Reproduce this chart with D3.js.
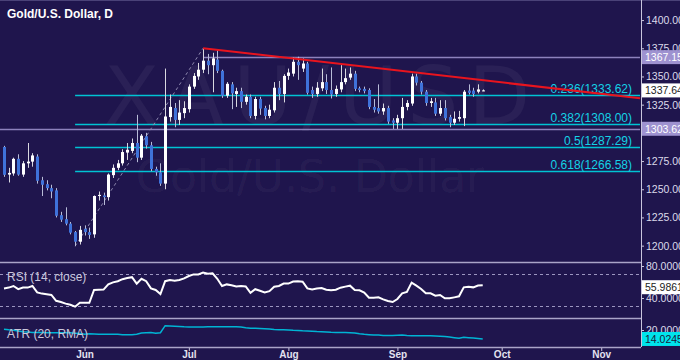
<!DOCTYPE html>
<html><head><meta charset="utf-8">
<script src="https://cdn.jsdelivr.net/npm/d3@7"></script>
<style>
html,body{margin:0;padding:0;background:#1f154d;}
svg{display:block;font-family:"Liberation Sans",Arial,sans-serif;}
</style></head><body>
<svg id="c" width="680" height="360"></svg>
<script>
// ---- data (Gold / U.S. Dollar, daily, 9 May - 27 Sep 2016) ----
const opens  = [1287.5,1263,1264,1277,1263,1273,1274.5,1279,1258,1254.5,1251,1249,1227,1223.5,1219.5,1212,1203.5,1215,1212,1210,
 1244,1244.5,1243,1262.5,1269,1273,1282.5,1284,1291,1278,1297,1289,1268,1265,1255,1314,1322,1311.5,1317.5,1321,
 1341,1350,1356,1364,1360,1365,1355,1333,1343,1334.5,1337,1327.5,1332,1315,1330,1322,1315,1320,1340,1334.5,
 1350.5,1352.5,1363,1357,1361.5,1338,1334.5,1339.5,1345,1338,1334.5,1338.5,1345,1349,1352.5,1339.5,1339,1338,1323,1322,
 1319,1322,1311,1309,1313,1323,1326,1350,1344.5,1336.5,1326.5,1327,1317,1322,1314,1309,1312.5,1313,1337.5,1337.5,
 1336.5,1337.5];
const highs  = [1288.5,1269,1278,1281,1275,1291,1282,1281,1261,1258,1254,1251,1230,1234,1221,1213,1217.5,1218,1216,1244.5,
 1248,1247,1264,1272,1276,1285.5,1291,1295,1316,1299,1300,1292,1270,1273,1357,1334,1326.5,1329,1328,1343,
 1353,1362,1375,1370,1371,1374,1356,1345,1345,1340,1340,1334,1334,1332,1332,1324,1325,1345,1346,1352,
 1357,1367,1367.5,1366,1363,1341,1345,1357,1352,1358,1342,1360,1357,1358,1355,1341,1341,1339.5,1330,1343,
 1326,1324,1313,1316,1331,1329,1352.5,1352.5,1346,1338,1331,1331,1329,1329,1316,1319,1319.5,1338,1343,1340,
 1343,1338.5];
const lows   = [1261,1256,1262,1262,1261,1269,1270,1255,1244,1249,1242,1225,1221,1218,1210,1199.5,1201,1209,1206,1207,
 1240,1236,1240,1260,1267,1271,1276,1282,1274,1276,1286,1266,1262,1253,1250,1310,1305,1307,1313,1318,
 1339,1347,1353,1352,1336,1353,1331,1331,1321,1323,1322,1325,1313,1312,1316,1312,1313,1318,1329,1327,
 1347,1350,1347,1354,1334,1331,1332,1337,1334.5,1330.5,1332,1336,1343,1347,1337,1336,1335,1321,1318,1317,
 1316,1308,1303.5,1303.5,1303.5,1320,1324,1342,1334,1324,1323,1315,1315,1311,1305,1307,1310,1306,1334,1332,
 1335,1337];
const closes = [1262.8,1264.5,1277,1263,1273,1274.5,1280,1257.5,1254,1251,1248,1226.5,1223,1219.5,1211.5,1203.5,1214,1212,1209.5,1244,
 1245,1243,1263,1269,1273,1283,1285,1291,1278,1297.5,1289,1268,1265,1255,1314.5,1323,1311.5,1318,1322,1341,
 1350.5,1356,1364,1360,1366,1355,1333,1343.5,1335,1337,1327.5,1332,1315,1330,1321.5,1315,1320.5,1340,1334.5,1350.5,
 1353.5,1363,1360,1361.5,1335.5,1334.5,1340,1345,1338,1334,1339,1345,1348.5,1352.5,1339,1338,1337,1323,1320.5,1319,
 1322,1310,1309,1313,1323,1326.5,1350,1344.5,1336.5,1326.5,1328,1317,1322,1313,1309,1312.5,1314,1336.5,1335.5,1334.5,
 1338.5,1337.64];
const rsiValues = [52,53,55,51,53,53,55,47,45.5,44.6,43.8,36.5,35,33,31.5,29.2,34.2,34,34,50,
 50.4,50.5,57,59.5,61,63.5,65,66,58,64,61,52,50,45,61,62.5,61.5,62.5,64.5,67.5,
 69.5,69.5,71.7,70.4,70.8,64,55,57,56,54.5,55,54.5,46.5,51,49,47,48.5,54,55,58,
 58,60.5,61,60.4,52,50.8,52,52.5,50.4,49.6,50.4,52.9,54.2,55.4,50,49.6,46.7,40.4,40.4,40.8,
 38.3,36.25,35,38.75,45.8,47.5,59.2,55.4,51.25,45.8,45.8,42.9,43.75,39.6,39.6,40.8,42.1,53.3,54.2,53.3,
 55.5,55.9861];
const atrValues = [20.5,20.1,19.8,19.3,18.8,18.6,18.4,18.3,18.3,18.2,18.2,18.2,18.2,18.2,18.1,17.9,17.6,17.1,17.5,17.3,
 17.1,17.1,17.1,17.1,17.1,16.9,16.8,16.8,17.2,18,18.2,18.3,17.9,18.2,22.9,22.7,22.5,22.3,22.1,22,
 22,22,22,22.1,22.2,22.2,22.2,22.2,22.2,22.1,22,21.5,21.2,21.1,21,20.8,20.6,20.3,20.2,20.2,
 20,19.8,19.7,19.5,19.4,19.2,19,18.9,18.7,18.5,18.4,18.4,18.3,18.2,18,17.5,17.1,16.9,16.7,16.6,
 16.4,16.4,16.4,16.5,16.6,16.3,16.2,16.2,16.2,16.1,16.1,16,15.8,15.6,15.3,14.9,14.5,15.2,14.9,14.6,
 14.3,14.0245];
const monthLabels = ["Jun","Jul","Aug","Sep","Oct","Nov"];
const monthIndex  = [17,39,60,83,105,126];
const priceTicks  = [1200,1225,1250,1275,1325,1350,1375,1400];
const fibRatios   = ["0.236","0.382","0.5","0.618"];
const fibPrices   = [1333.62,1308.00,1287.29,1266.58];
const swingIndex  = [15,42];          // fib swing low / high bars
const swingPrice  = [1199.55,1375.04];
const levelPrices = [1367.15,1303.62];
const levelStart  = [42,-1];
const trendIndex  = [42,134.2];
const trendPrice  = [1375.04,1330.7];
const lastPrice   = 1337.64;
const rsiTicks    = [80,40];
const rsiLevels   = [70,30];
const atrTicks    = [20];

// ---- layout ----
const W=680, plotR=641;
const svg=d3.select("#c");
const bg="#1f154d";
svg.append("rect").attr("width",W).attr("height",360).attr("fill",bg);

const x=d3.scaleLinear().domain([-0.844,134.18]).range([0,640]);
const y=d3.scaleLinear().domain([1185.5,1417.8]).range([262,0]);
const yR=d3.scaleLinear().domain([15,85]).range([318,262]);
const yA=d3.scaleLinear().domain([8.67,28]).range([347,318]);

// watermark
svg.append("text").attr("x",322).attr("y",124).attr("text-anchor","middle")
  .attr("font-size",80).attr("font-family","DejaVu Sans").attr("fill","#ffffff").attr("fill-opacity",0.05)
  .attr("letter-spacing",10).text("XAU/USD");
svg.append("text").attr("x",310).attr("y",192).attr("text-anchor","middle")
  .attr("font-size",44).attr("font-family","DejaVu Sans").attr("fill","#ffffff").attr("fill-opacity",0.05)
  .text("Gold/U.S. Dollar");

// title
svg.append("text").attr("x",7).attr("y",18).attr("font-size",12).attr("font-weight","bold")
  .attr("fill","#ffffff").text("Gold/U.S. Dollar, D");

// horizontal levels
levelPrices.forEach((p,k)=>{
  svg.append("line").attr("x1",x(levelStart[k])).attr("x2",640)
   .attr("y1",Math.round(y(p))+0.5).attr("y2",Math.round(y(p))+0.5)
   .attr("stroke","#8d82bd").attr("stroke-width",1.5);
});

// fib lines
fibPrices.forEach((p,k)=>{
  const yy=Math.round(y(p))+0.5;
  svg.append("line").attr("x1",x(swingIndex[0])).attr("x2",640).attr("y1",yy).attr("y2",yy)
    .attr("stroke","#00c3d4").attr("stroke-width",1.5);
  svg.append("text").attr("x",632).attr("y",yy-3).attr("text-anchor","end")
    .attr("font-size",12).attr("fill","#14d2e6").text(fibRatios[k]+"("+fibPrices[k].toFixed(2)+")");
});
// fib swing dashed
svg.append("line").attr("x1",x(swingIndex[0])).attr("y1",y(swingPrice[0]))
  .attr("x2",x(swingIndex[1])).attr("y2",y(swingPrice[1]))
  .attr("stroke","#8f8ab0").attr("stroke-dasharray","3,3").attr("stroke-width",1);

// candles
const idx=d3.range(closes.length);
const g=svg.append("g");
idx.forEach(i=>{
  const cx=Math.round(x(i));
  const up=closes[i]>=opens[i];
  const col=up?"#ffffff":"#3f72da";
  g.append("line").attr("x1",cx+0.5).attr("x2",cx+0.5).attr("y1",y(highs[i])).attr("y2",y(lows[i]))
   .attr("stroke",up?"#d8d8e0":"#b8bcd8").attr("stroke-width",1);
  const top=y(Math.max(opens[i],closes[i])), bot=y(Math.min(opens[i],closes[i]));
  g.append("rect").attr("x",cx-1).attr("width",3).attr("y",top).attr("height",Math.max(1,bot-top)).attr("fill",col);
});

// trendline
svg.append("line").attr("x1",x(trendIndex[0])).attr("y1",y(trendPrice[0]))
  .attr("x2",x(trendIndex[1])).attr("y2",y(trendPrice[1]))
  .attr("stroke","#e8141e").attr("stroke-width",2);

// panel separators
[262,318,347].forEach(v=>{
  svg.append("line").attr("x1",0).attr("x2",641).attr("y1",v+0.5).attr("y2",v+0.5)
   .attr("stroke","#aaa4c8").attr("stroke-width",1.5);
});
svg.append("line").attr("x1",0).attr("x2",680).attr("y1",0.5).attr("y2",0.5).attr("stroke","#4a4278");
// right axis line
svg.append("line").attr("x1",plotR+0.5).attr("x2",plotR+0.5).attr("y1",0).attr("y2",347)
  .attr("stroke","#c9c5dd").attr("stroke-width",1);

function styleAxis(a){
  a.select(".domain").remove();
  a.selectAll("line").attr("stroke","#c9c5dd");
  a.selectAll("text").attr("fill","#dcdaea").attr("font-size",10.5).attr("x",5).attr("font-family","Liberation Sans");
}
// price axis
styleAxis(svg.append("g").attr("transform",`translate(${plotR},0)`)
  .call(d3.axisRight(y).tickValues(priceTicks).tickSize(3).tickFormat(d3.format(".2f"))));

function box(yy,txt,fillBg,fillTx){
  svg.append("rect").attr("x",plotR+1).attr("y",yy-7).attr("width",40).attr("height",14).attr("fill",fillBg);
  svg.append("text").attr("x",plotR+4).attr("y",yy+4).attr("font-size",10.5).attr("fill",fillTx).text(txt);
}
levelPrices.forEach(p=>box(y(p),p.toFixed(2),"#9e92d0","#ffffff"));
box(y(lastPrice),lastPrice.toFixed(2),"#ffffff","#222222");

// RSI panel
rsiLevels.forEach(v=>{
  svg.append("line").attr("x1",0).attr("x2",640).attr("y1",Math.round(yR(v))+0.5).attr("y2",Math.round(yR(v))+0.5)
   .attr("stroke","#9c96c0").attr("stroke-dasharray","3,3");
});
svg.append("path").datum(rsiValues)
  .attr("d",d3.line().x((d,i)=>x(i)).y(d=>yR(d)))
  .attr("fill","none").attr("stroke","#ffffff").attr("stroke-width",2);
svg.append("text").attr("x",7).attr("y",281).attr("font-size",12).attr("fill","#c9c7dc").text("RSI (14, close)");
styleAxis(svg.append("g").attr("transform",`translate(${plotR},0)`)
  .call(d3.axisRight(yR).tickValues(rsiTicks).tickSize(3).tickFormat(d3.format(".4f"))));
box(yR(rsiValues[rsiValues.length-1])+2,rsiValues[rsiValues.length-1].toFixed(4),"#ffffff","#222222");

// ATR panel
svg.append("path").datum(atrValues)
  .attr("d",d3.line().x((d,i)=>x(i)).y(d=>yA(d)))
  .attr("fill","none").attr("stroke","#00b4d4").attr("stroke-width",1.5);
svg.append("text").attr("x",7).attr("y",338).attr("font-size",12).attr("fill","#c9c7dc").text("ATR (20, RMA)");
styleAxis(svg.append("g").attr("transform",`translate(${plotR},0)`)
  .call(d3.axisRight(yA).tickValues(atrTicks).tickSize(3).tickFormat(d3.format(".4f"))));
box(yA(atrValues[atrValues.length-1]),atrValues[atrValues.length-1].toFixed(4),"#00e4ec","#1a1a3a");

// x axis
const ax=svg.append("g").attr("transform","translate(0,348)")
  .call(d3.axisBottom(x).tickValues(monthIndex).tickSize(3).tickFormat((d,i)=>monthLabels[i]));
ax.select(".domain").remove();
ax.selectAll("line").attr("stroke","#c9c5dd");
ax.selectAll("text").attr("fill","#e4e2f0").attr("font-size",10).attr("font-weight","bold").attr("dy","0.35em")
  .attr("font-family","Liberation Sans");
</script>
</body></html>
